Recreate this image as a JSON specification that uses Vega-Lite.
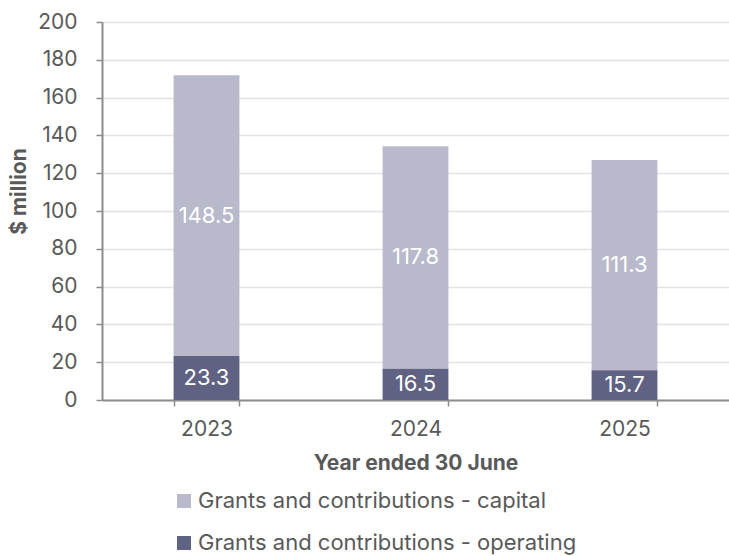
{
  "$schema": "https://vega.github.io/schema/vega-lite/v6.json",
  "autosize": "none",
  "padding": {"left": 102, "top": 22, "right": 0, "bottom": 156},
  "width": 627,
  "height": 378,
  "background": "white",
  "config": {
    "font": "Inter",
    "view": {"stroke": null},
    "axis": {"labelFont": "Inter", "titleFont": "Inter", "labelColor": "#595959", "titleColor": "#595959", "labelFontSize": 21, "titleFontSize": 21, "titleFontWeight": "bold"}
  },
  "data": {
    "values": [
      {"year": "2023", "type": "Grants and contributions - capital", "value": 148.5},
      {"year": "2023", "type": "Grants and contributions - operating", "value": 23.3},
      {"year": "2024", "type": "Grants and contributions - capital", "value": 117.8},
      {"year": "2024", "type": "Grants and contributions - operating", "value": 16.5},
      {"year": "2025", "type": "Grants and contributions - capital", "value": 111.3},
      {"year": "2025", "type": "Grants and contributions - operating", "value": 15.7}
    ]
  },
  "encoding": {
    "x": {
      "field": "year", "type": "nominal",
      "scale": {"paddingInner": 0.685, "paddingOuter": 0.3425},
      "axis": {"title": "Year ended 30 June", "labelAngle": 0, "tickBand": "extent", "tickSize": 6, "tickColor": "#8c8c8c", "domainColor": "#8c8c8c", "domainWidth": 2, "tickWidth": 1.5, "labelPadding": 12, "titlePadding": 13, "grid": false}
    },
    "y": {
      "field": "value", "type": "quantitative", "stack": "zero",
      "scale": {"domain": [0, 200], "nice": false},
      "axis": {"title": "$ million", "titleY": 169, "values": [0,20,40,60,80,100,120,140,160,180,200], "tickSize": 6, "tickColor": "#8c8c8c", "domainColor": "#8c8c8c", "domainWidth": 2, "tickWidth": 1.5, "labelPadding": 19, "titlePadding": 8, "gridColor": "#e3e3e3", "gridWidth": 1.5}
    },
    "order": {"field": "type", "sort": "descending"}
  },
  "layer": [
    {
      "mark": {"type": "bar"},
      "encoding": {
        "color": {
          "field": "type", "type": "nominal",
          "scale": {"domain": ["Grants and contributions - capital", "Grants and contributions - operating"], "range": ["#b8bacb", "#5f6282"]},
          "legend": {"title": null, "orient": "none", "legendX": 71, "legendY": 468, "direction": "vertical", "symbolType": "square", "symbolSize": 196, "symbolStrokeWidth": 0, "labelFontSize": 22, "labelColor": "#595959", "labelFont": "Inter", "labelLimit": 0, "rowPadding": 20, "labelOffset": 3}
        }
      }
    },
    {
      "mark": {"type": "text", "color": "white", "fontSize": 22, "font": "Inter"},
      "encoding": {
        "y": {"field": "value", "type": "quantitative", "stack": "zero", "bandPosition": 0.5},
        "text": {"field": "value", "type": "quantitative", "format": ".1f"}
      }
    }
  ]
}
